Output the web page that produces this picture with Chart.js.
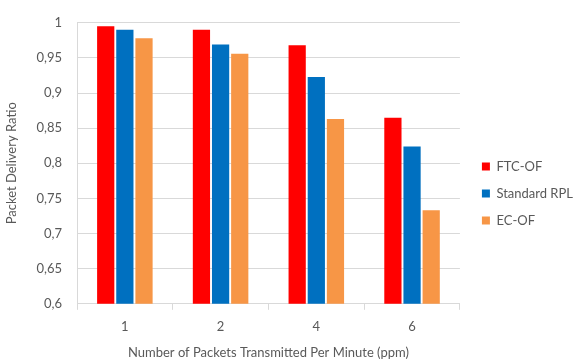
<!DOCTYPE html>
<html>
<head>
<meta charset="utf-8">
<script src="https://cdn.jsdelivr.net/npm/chart.js@4/dist/chart.umd.min.js"></script>
<style>
  html, body { margin: 0; padding: 0; background: #fff; }
  #wrap { width: 575px; height: 363px; }
</style>
</head>
<body>
<div id="wrap"><canvas id="c" width="575" height="363"></canvas></div>
<script>
// Packet delivery ratio per traffic rate, three routing objective functions
const categories = ['1', '2', '4', '6'];
const ftcOf = [0.995, 0.990, 0.968, 0.865];
const standardRpl = [0.990, 0.969, 0.923, 0.824];
const ecOf = [0.978, 0.956, 0.863, 0.733];
const yTickLabels = ['0,6', '0,65', '0,7', '0,75', '0,8', '0,85', '0,9', '0,95', '1'];

const textColor = '#595959';
const gridColor = '#d9d9d9';
const fontFamily = 'Lato, "Open Sans", sans-serif';

// Moves the legend box a little right of and below its default spot
const legendOffset = {
  id: 'legendOffset',
  afterLayout(chart) {
    const lg = chart.legend;
    if (!lg) return;
    const dx = 8, dy = 9;
    lg.left += dx; lg.right += dx;
    lg.top += dy; lg.bottom += dy;
  }
};

new Chart(document.getElementById('c'), {
  type: 'bar',
  data: {
    labels: categories,
    datasets: [
      { label: 'FTC-OF', data: ftcOf, backgroundColor: '#ff0000' },
      { label: 'Standard RPL', data: standardRpl, backgroundColor: '#0070c0' },
      { label: 'EC-OF', data: ecOf, backgroundColor: '#f79646' }
    ]
  },
  plugins: [legendOffset],
  options: {
    responsive: false,
    animation: false,
    devicePixelRatio: 1,
    layout: { padding: { left: 0, right: 0, top: 8, bottom: 2 } },
    datasets: {
      bar: { categoryPercentage: 0.6, barPercentage: 0.9, borderWidth: 0 }
    },
    plugins: {
      legend: {
        position: 'right',
        labels: {
          boxWidth: 8,
          boxHeight: 8,
          padding: 14,
          color: textColor,
          font: { family: fontFamily, size: 13 }
        }
      },
      tooltip: { enabled: false }
    },
    scales: {
      x: {
        grid: {
          display: true,
          drawOnChartArea: false,
          drawTicks: true,
          tickLength: 6,
          color: gridColor,
          offset: true
        },
        border: { color: gridColor },
        ticks: { color: textColor, font: { family: fontFamily, size: 13 }, padding: 9 },
        title: {
          display: true,
          text: 'Number of Packets Transmitted Per Minute (ppm)',
          color: textColor,
          font: { family: fontFamily, size: 13 },
          padding: { top: 2, bottom: 0 }
        }
      },
      y: {
        min: 0.6,
        max: 1,
        afterFit(scale) { scale.width = 77; },
        grid: { color: gridColor, drawTicks: false },
        border: { color: gridColor },
        ticks: {
          stepSize: 0.05,
          color: textColor,
          padding: 15,
          font: { family: fontFamily, size: 13 },
          callback: (value, index) => yTickLabels[index]
        },
        title: {
          display: true,
          text: 'Packet Delivery Ratio',
          color: textColor,
          font: { family: fontFamily, size: 13 },
          padding: { top: 4, bottom: 0 }
        }
      }
    }
  }
});
</script>
</body>
</html>
